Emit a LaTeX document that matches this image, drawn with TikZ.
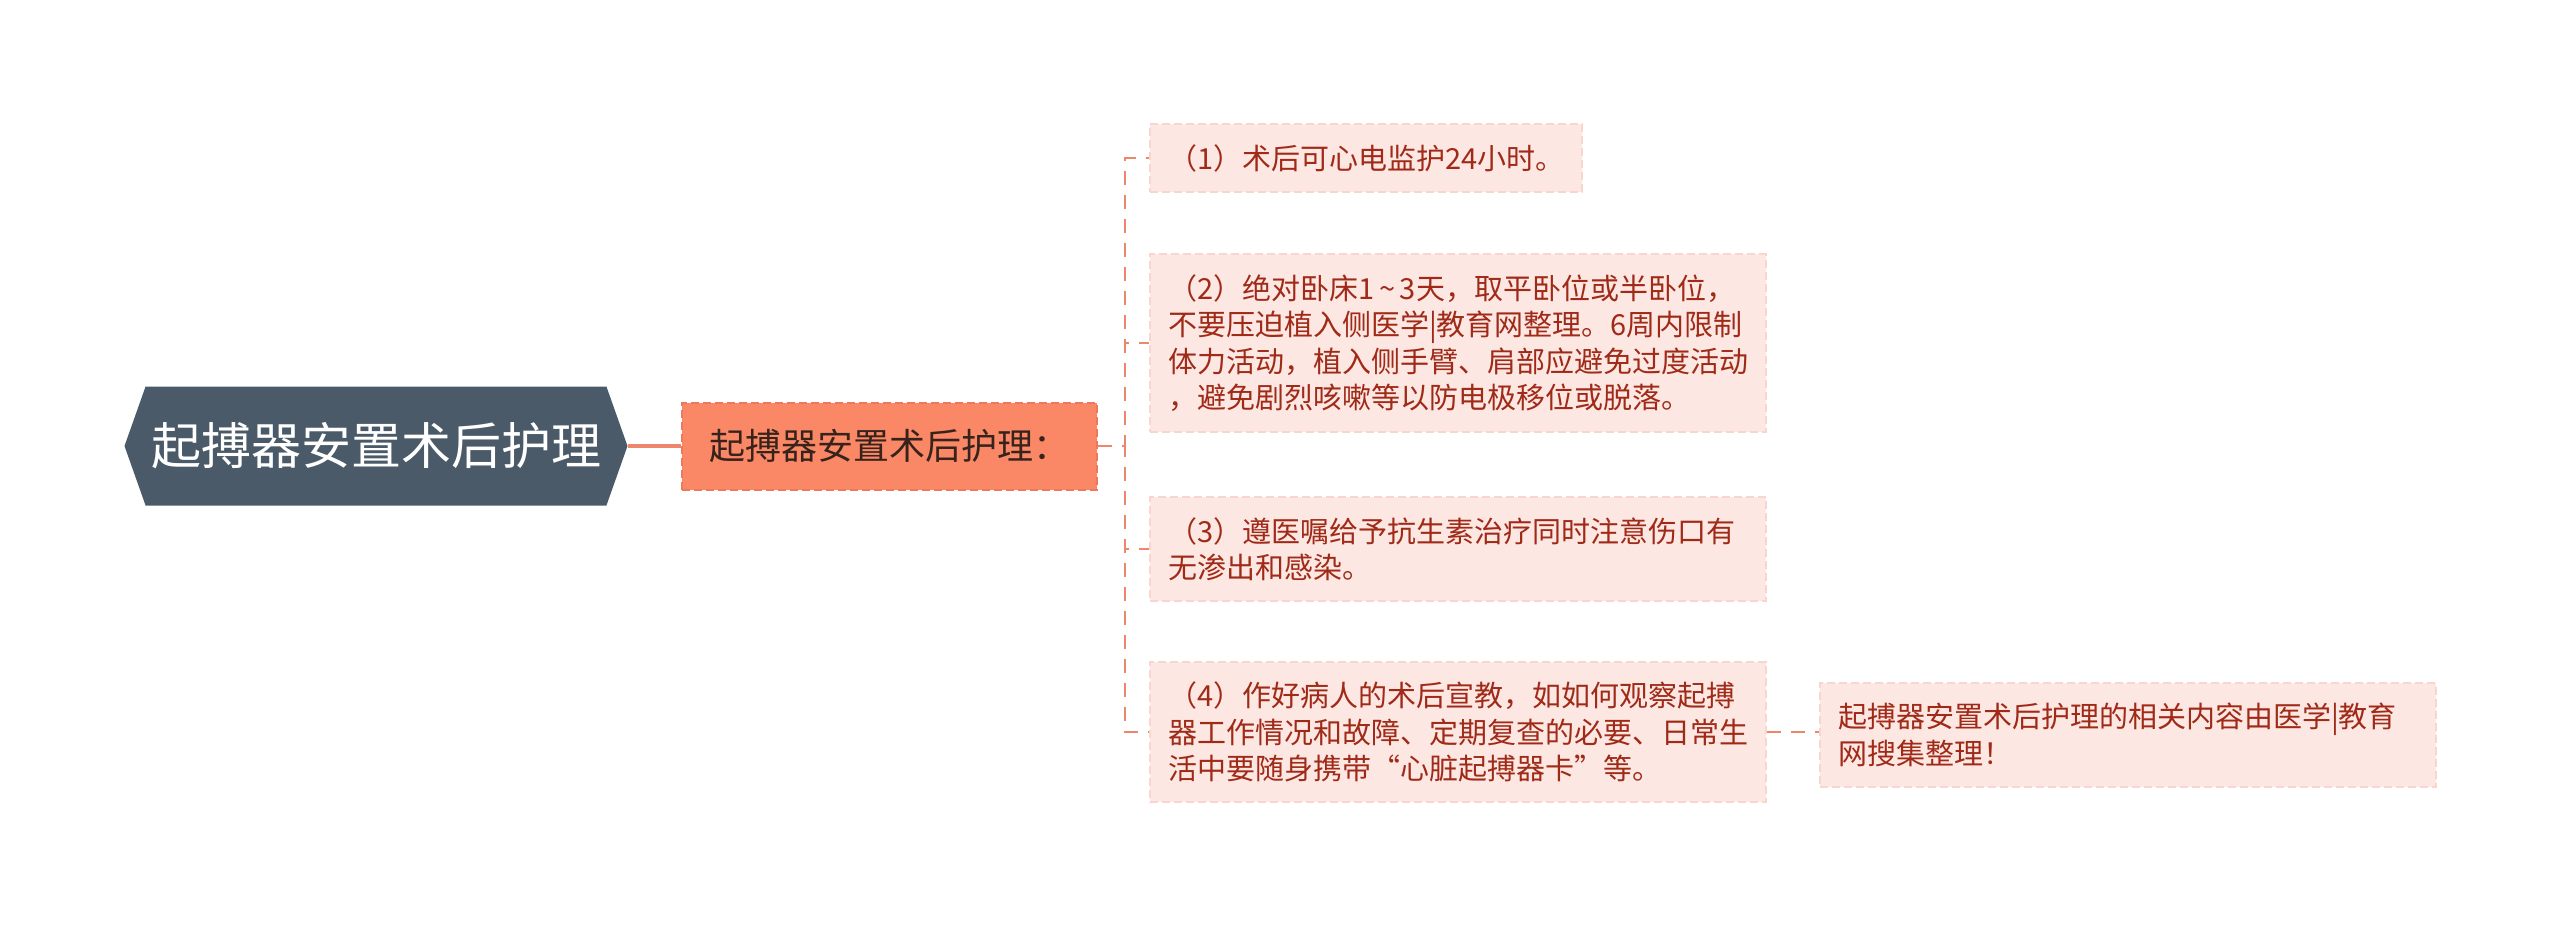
\documentclass[tikz,border=0pt]{standalone}
\usepackage{fontspec}
\setmainfont{Noto Sans CJK SC}
\usetikzlibrary{shapes.symbols}

\definecolor{rootfill}{RGB}{74,90,104}
\definecolor{subfill}{RGB}{250,136,102}
\definecolor{subline}{RGB}{238,120,90}
\definecolor{subtext}{RGB}{55,35,28}
\definecolor{leaffill}{RGB}{253,231,226}
\definecolor{leafline}{RGB}{249,214,205}
\definecolor{leaftext}{RGB}{160,42,24}
\definecolor{linkcol}{RGB}{238,134,108}

\begin{document}
\begin{tikzpicture}[x=0.5pt, y=-0.5pt,
    link/.style={draw=linkcol, line width=1pt, dash pattern=on 7pt off 5pt},
    leaf/.style={draw=leafline, fill=leaffill, line width=1pt, dash pattern=on 4pt off 2pt,
      text=leaftext, font=\fontsize{14.5pt}{18.2pt}\selectfont, align=left,
      anchor=west, inner xsep=9pt, inner ysep=10pt},
    wideleaf/.style={leaf, text width=290pt}]

  \useasboundingbox (0,0) rectangle (2560,933);

  % Root
  \node[signal, signal to=west and east, signal pointer angle=141, fill=rootfill,
    minimum width=251.5pt, minimum height=59.5pt, inner sep=0pt,
    text=white, font=\fontsize{25pt}{30pt}\selectfont] (root) at (376,446) {起搏器安置术后护理};

  % Sub topic
  \node[anchor=west, fill=subfill, draw=subline, line width=1pt, dash pattern=on 4pt off 2pt,
    minimum width=207.5pt, minimum height=43.5pt, text=subtext,
    font=\fontsize{18pt}{22pt}\selectfont] (sub) at (681,446) {起搏器安置术后护理：\hspace{6pt}};

  % Leaves
  \node[leaf] (l1) at (1149,158) {（1）术后可心电监护24小时。};
  \node[wideleaf] (l2) at (1149,343) {（2）绝对卧床1\,{\char`\~}\,3天，取平卧位或半卧位，\\不要压迫植入侧医学|教育网整理。6周内限制\\体力活动，植入侧手臂、肩部应避免过度活动\\，避免剧烈咳嗽等以防电极移位或脱落。};
  \node[wideleaf] (l3) at (1149,549) {（3）遵医嘱给予抗生素治疗同时注意伤口有\\无渗出和感染。};
  \node[wideleaf] (l4) at (1149,732) {（4）作好病人的术后宣教，如如何观察起搏\\器工作情况和故障、定期复查的必要、日常生\\活中要随身携带“心脏起搏器卡”等。};
  \node[wideleaf] (l5) at (1819,735) {起搏器安置术后护理的相关内容由医学|教育\\网搜集整理！};

  % Links
  \draw[draw=linkcol, line width=2pt] (root.east) -- (sub.west);
  \draw[link] (sub.east) -- ++(27,0) |- (l1.west);
  \draw[link] (sub.east) -- ++(27,0) |- (l2.west);
  \draw[link] (sub.east) -- ++(27,0) |- (l3.west);
  \draw[link] (sub.east) -- ++(27,0) |- (l4.west);
  \draw[link] (l4.east) -- (l4.east -| l5.west);

\end{tikzpicture}
\end{document}
